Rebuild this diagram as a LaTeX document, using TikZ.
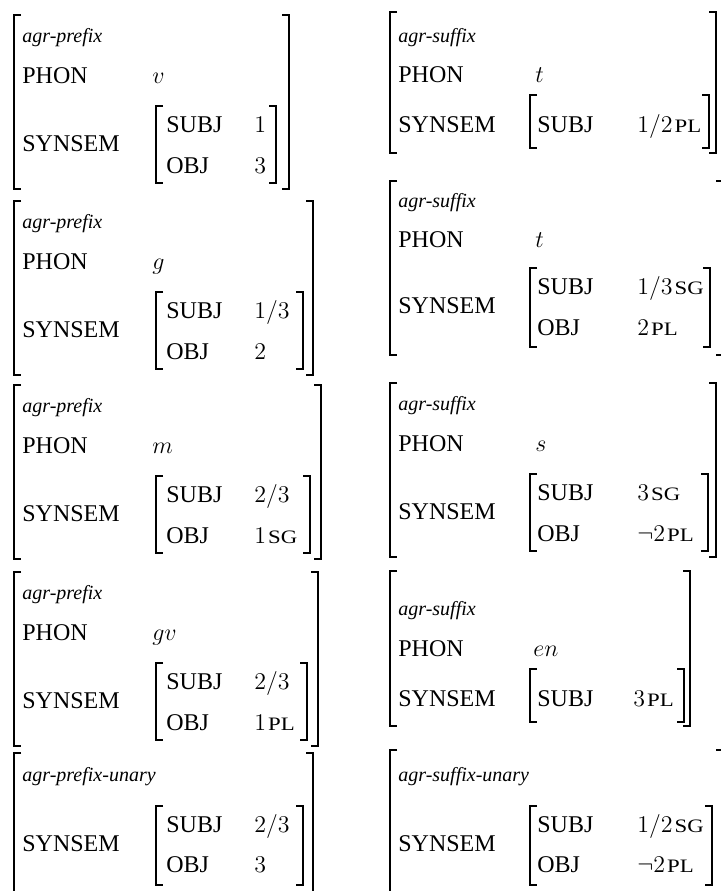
\documentclass[tikz,border=0pt]{standalone}
\usepackage{graphicx}
\usepackage{fontspec}
\setmainfont{Liberation Serif}
\newcommand{\smc}[1]{\kern1pt\scalebox{1.2}[1]{\fontsize{9.5}{11}\selectfont #1}}
\newcommand{\lbrk}[3]{\draw[brk] (#1+7,#2) -- (#1,#2) -- (#1,#3) -- (#1+7,#3);}
\newcommand{\rbrk}[3]{\draw[brk] (#1-7,#2) -- (#1,#2) -- (#1,#3) -- (#1-7,#3);}

\begin{document}
\begin{tikzpicture}[x=0.5pt,y=-0.5pt,
  brk/.style={line width=0.9pt},
  lab/.style={anchor=base west,inner sep=0pt,font=\fontsize{12}{14}\selectfont},
  typ/.style={anchor=base west,inner sep=0pt,font=\fontsize{10}{12}\selectfont\itshape}]
\useasboundingbox (0,0) rectangle (721,891);

% left column: prefixes
\lbrk{14}{15}{189} \rbrk{289}{15}{189}
\node[typ] (l1t) at (22,42) {agr-prefix};
\node[lab] (l1p) at (22,83) {PHON}; \node[lab] (l1pv) at (152,83) {$v$};
\node[lab] (l1s) at (22,151) {SYNSEM};
\lbrk{156}{106}{183} \rbrk{276}{106}{183}
\node[lab] (l1a) at (166,132) {SUBJ}; \node[lab] (l1av) at (254,132) {$1$};
\node[lab] (l1b) at (166,173) {OBJ}; \node[lab] (l1bv) at (254,173) {$3$};

\lbrk{14}{201}{375} \rbrk{313}{201}{375}
\node[typ] (l2t) at (22,228) {agr-prefix};
\node[lab] (l2p) at (22,269) {PHON}; \node[lab] (l2pv) at (152,269) {$g$};
\node[lab] (l2s) at (22,337) {SYNSEM};
\lbrk{156}{292}{369} \rbrk{303}{292}{369}
\node[lab] (l2a) at (166,318) {SUBJ}; \node[lab] (l2av) at (254,318) {$1/3$};
\node[lab] (l2b) at (166,359) {OBJ}; \node[lab] (l2bv) at (254,359) {$2$};

\lbrk{14}{385}{559} \rbrk{321}{385}{559}
\node[typ] (l3t) at (22,412) {agr-prefix};
\node[lab] (l3p) at (22,453) {PHON}; \node[lab] (l3pv) at (152,453) {$m$};
\node[lab] (l3s) at (22,521) {SYNSEM};
\lbrk{156}{476}{553} \rbrk{310}{476}{553}
\node[lab] (l3a) at (166,502) {SUBJ}; \node[lab] (l3av) at (254,502) {$2/3$};
\node[lab] (l3b) at (166,543) {OBJ}; \node[lab] (l3bv) at (254,543) {$1$\smc{SG}};

\lbrk{14}{572}{746} \rbrk{318}{572}{746}
\node[typ] (l4t) at (22,599) {agr-prefix};
\node[lab] (l4p) at (22,640) {PHON}; \node[lab] (l4pv) at (152,640) {$gv$};
\node[lab] (l4s) at (22,708) {SYNSEM};
\lbrk{156}{663}{740} \rbrk{307}{663}{740}
\node[lab] (l4a) at (166,689) {SUBJ}; \node[lab] (l4av) at (254,689) {$2/3$};
\node[lab] (l4b) at (166,730) {OBJ}; \node[lab] (l4bv) at (254,730) {$1$\smc{PL}};

\lbrk{14}{753}{897} \rbrk{313}{753}{897}
\node[typ] (l5t) at (22,781) {agr-prefix-unary};
\node[lab] (l5s) at (22,851) {SYNSEM};
\lbrk{156}{806}{885} \rbrk{303}{806}{885}
\node[lab] (l5a) at (166,832) {SUBJ}; \node[lab] (l5av) at (254,832) {$2/3$};
\node[lab] (l5b) at (166,872) {OBJ}; \node[lab] (l5bv) at (254,872) {$3$};

% right column: suffixes
\lbrk{390}{12}{153} \rbrk{716}{12}{153}
\node[typ] (r1t) at (398,42) {agr-suffix};
\node[lab] (r1p) at (398,82) {PHON}; \node[lab] (r1pv) at (535,82) {$t$};
\node[lab] (r1s) at (398,132) {SYNSEM};
\lbrk{530}{95}{148} \rbrk{709}{95}{148}
\node[lab] (r1a) at (537,132) {SUBJ}; \node[lab] (r1av) at (637,132) {$1/2$\smc{PL}};

\lbrk{390}{181}{355} \rbrk{723}{181}{355}
\node[typ] (r2t) at (398,207) {agr-suffix};
\node[lab] (r2p) at (398,247) {PHON}; \node[lab] (r2pv) at (535,247) {$t$};
\node[lab] (r2s) at (398,313) {SYNSEM};
\lbrk{530}{268}{347} \rbrk{710}{268}{347}
\node[lab] (r2a) at (537,294) {SUBJ}; \node[lab] (r2av) at (637,294) {$1/3$\smc{SG}};
\node[lab] (r2b) at (537,335) {OBJ}; \node[lab] (r2bv) at (637,335) {$2$\smc{PL}};

\lbrk{390}{383}{557} \rbrk{716}{383}{557}
\node[typ] (r3t) at (398,410) {agr-suffix};
\node[lab] (r3p) at (398,451) {PHON}; \node[lab] (r3pv) at (535,451) {$s$};
\node[lab] (r3s) at (398,519) {SYNSEM};
\lbrk{530}{474}{551} \rbrk{708}{474}{551}
\node[lab] (r3a) at (537,500) {SUBJ}; \node[lab] (r3av) at (637,500) {$3$\smc{SG}};
\node[lab] (r3b) at (537,541) {OBJ}; \node[lab] (r3bv) at (637,541) {$\neg2$\smc{PL}};

\lbrk{390}{571}{726} \rbrk{690}{571}{726}
\node[typ] (r4t) at (398,615) {agr-suffix};
\node[lab] (r4p) at (398,656) {PHON}; \node[lab] (r4pv) at (533,656) {$en$};
\node[lab] (r4s) at (398,706) {SYNSEM};
\lbrk{530}{669}{722} \rbrk{684}{669}{722}
\node[lab] (r4a) at (537,706) {SUBJ}; \node[lab] (r4av) at (633,706) {$3$\smc{PL}};

\lbrk{390}{750}{897} \rbrk{723}{750}{897}
\node[typ] (r5t) at (398,781) {agr-suffix-unary};
\node[lab] (r5s) at (398,851) {SYNSEM};
\lbrk{530}{806}{885} \rbrk{712}{806}{885}
\node[lab] (r5a) at (537,832) {SUBJ}; \node[lab] (r5av) at (637,832) {$1/2$\smc{SG}};
\node[lab] (r5b) at (537,872) {OBJ}; \node[lab] (r5bv) at (637,872) {$\neg2$\smc{PL}};
\end{tikzpicture}
\end{document}
